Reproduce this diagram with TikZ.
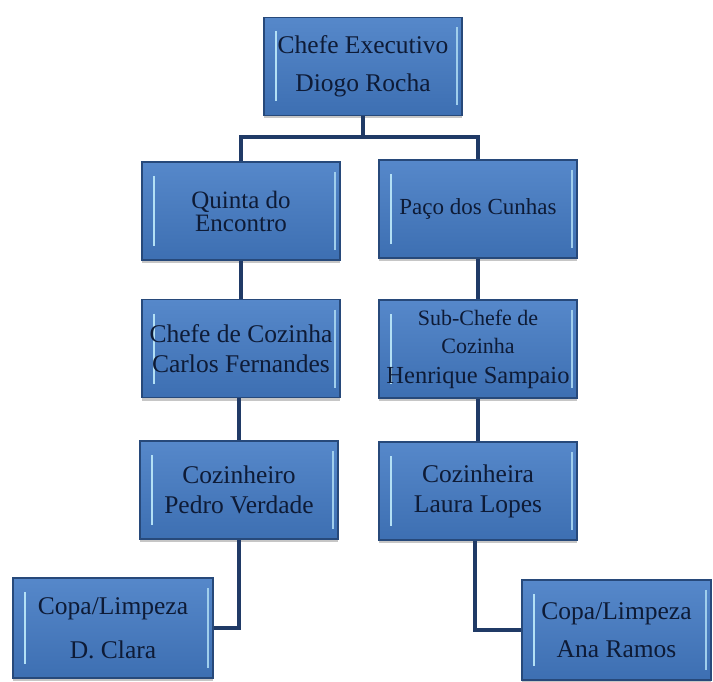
\documentclass[tikz,border=0pt]{standalone}
\usepackage{fontspec}
\setmainfont{Liberation Serif}
\usetikzlibrary{shadows}
\definecolor{boxtop}{HTML}{5688CA}
\definecolor{boxbot}{HTML}{3D6FB2}
\definecolor{boxedge}{HTML}{27497A}
\definecolor{txt}{HTML}{0E1B36}
\definecolor{conn}{HTML}{203A66}
\definecolor{hilite}{HTML}{B3E0F5}
\tikzset{
  orgbox/.style={draw=boxedge, line width=1.4pt, top color=boxtop, bottom color=boxbot,
    minimum width=198pt, minimum height=98pt, inner sep=2pt, align=center,
    text=txt, font=\fontsize{25.5}{30}\selectfont,
    drop shadow={shadow xshift=0pt, shadow yshift=-3pt, fill=gray!45, opacity=1},
    path picture={
      \draw[hilite, line width=2pt]
        ([xshift=12pt,yshift=-14pt]path picture bounding box.north west) --
        ([xshift=12pt,yshift=14pt]path picture bounding box.south west);
      \draw[hilite!80!boxtop, line width=2pt]
        ([xshift=-5pt,yshift=-10pt]path picture bounding box.north east) --
        ([xshift=-5pt,yshift=10pt]path picture bounding box.south east);
    }},
  link/.style={draw=conn, line width=3.2pt}
}
\begin{document}
\begin{tikzpicture}[x=1pt,y=-1pt]
\useasboundingbox (0,0) rectangle (713,682);
\node[orgbox] (top) at (363,66.5) {Chefe Executivo\\[8pt]Diogo Rocha};
\node[orgbox, font=\fontsize{25}{23}\selectfont] (quinta) at (241,211) {Quinta do\\Encontro};
\node[orgbox, font=\fontsize{23}{28}\selectfont] (paco) at (478,209) {Paço dos Cunhas};
\node[orgbox] (chefe) at (241,348.5) {Chefe de Cozinha\\Carlos Fernandes};
\node[orgbox, font=\fontsize{22}{28}\selectfont] (sub) at (478,349) {Sub-Chefe de\\Cozinha\\[2pt]{\fontsize{24.5}{28}\selectfont Henrique Sampaio}};
\node[orgbox] (coz) at (239,490) {Cozinheiro\\Pedro Verdade};
\node[orgbox] (laura) at (478,491) {Cozinheira\\Laura Lopes};
\node[orgbox, minimum width=200pt, minimum height=100pt] (clara) at (113,628) {Copa/Limpeza\\[14pt]D. Clara};
\node[orgbox, minimum width=189pt, minimum height=100pt] (ana) at (616.5,630) {Copa/Limpeza\\[8pt]Ana Ramos};
\coordinate (hub) at (363,137);
\draw[link] (top.south) -- (hub);
\draw[link] (quinta.north) |- (hub) -| (paco.north);
\draw[link] (quinta.south) -- (chefe.north);
\draw[link] (paco.south) -- (sub.north);
\draw[link] (chefe.south -| coz.south) -- (coz.north);
\draw[link] (sub.south) -- (laura.north);
\draw[link] (coz.south) |- (clara.east);
\draw[link] ([xshift=-3pt]laura.south) |- (ana.west);
\end{tikzpicture}
\end{document}
